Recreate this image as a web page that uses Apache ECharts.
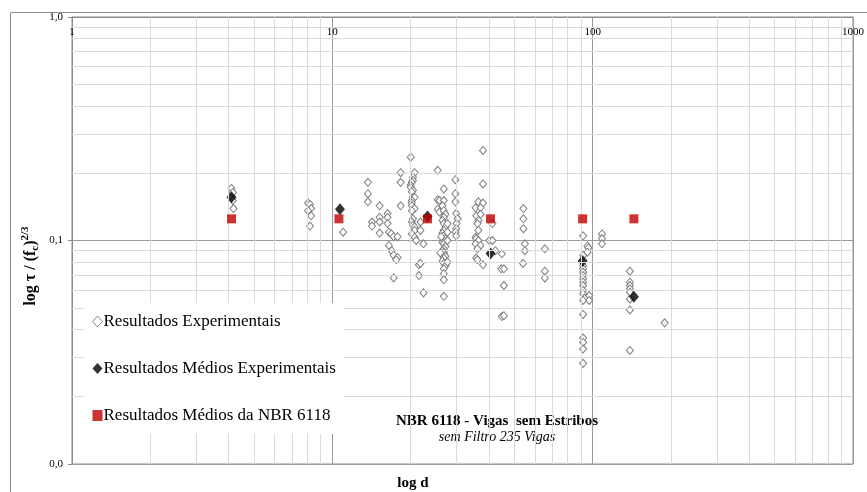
<!DOCTYPE html>
<html><head><meta charset="utf-8">
<script src="https://cdn.jsdelivr.net/npm/echarts@6/dist/echarts.min.js"></script>
<style>html,body{margin:0;padding:0;background:#fff}#c{width:867px;height:492px}</style>
</head><body><div id="c"></div>
<script>
// Experimental results (d, tau/fc^(2/3))
const expX = [4.10,4.15,4.15,4.17,8.07,8.21,8.29,8.07,8.29,8.21,11.0,13.7,13.7,13.7,14.2,14.2,15.2,15.2,15.2,15.2,16.3,16.3,16.3,16.5,16.5,16.85,16.9,17.2,17.2,17.8,17.8,17.6,17.2,18.3,18.3,18.3,20.0,
20.7,20.4,20.4,20.2,20.0,20.0,20.4,20.2,20.4,20.7,20.2,20.2,20.2,20.7,20.2,20.4,20.2,20.4,20.7,20.7,20.2,20.7,21.0,21.8,21.8,22.4,21.5,21.8,21.5,22.4,25.4,25.4,25.8,25.4,25.8,
26.8,26.8,26.5,26.8,27.2,26.8,26.5,26.8,27.2,26.8,26.5,26.8,27.2,26.8,26.5,26.8,27.2,26.8,26.5,26.8,26.8,27.2,26.8,26.5,26.8,27.2,26.8,26.8,26.8,26.8,27.7,27.7,26.2,27.7,26.0,27.7,
29.7,29.7,29.7,29.9,30.3,30.0,29.9,29.7,29.9,
37.9,37.9,36.4,37.9,35.5,37.1,35.7,37.1,36.4,36.1,36.4,35.5,35.7,36.4,35.5,37.1,36.1,35.7,36.1,37.9,41.2,40.1,41.2,42.3,44.8,44.5,45.6,45.6,44.8,45.6,
54.2,54.2,54.2,54.9,54.9,54.0,65.5,65.5,65.5,
91.9,95.5,96.3,95.5,91.9,91.9,91.9,91.9,91.9,91.9,91.9,91.9,91.9,91.9,93.0,97.0,97.0,91.9,91.9,91.9,91.9,91.9,91.9,
108.6,108.6,108.6,139,139,139,139,139,139,139,139,189];
const expY = [0.171,0.164,0.151,0.139,0.147,0.145,0.139,0.136,0.129,0.116,0.109,0.182,0.162,0.149,0.121,0.116,0.143,0.127,0.121,0.108,0.132,0.127,0.119,0.109,0.095,0.107,0.090,0.104,0.086,0.104,0.084,0.082,0.068,0.201,0.182,0.143,0.236,
0.201,0.192,0.186,0.182,0.177,0.173,0.168,0.165,0.156,0.156,0.151,0.147,0.143,0.139,0.136,0.125,0.121,0.117,0.115,0.111,0.107,0.1035,0.100,0.121,0.111,0.0966,0.0778,0.079,0.0697,0.0583,0.206,0.152,0.151,0.138,0.134,
0.170,0.151,0.143,0.136,0.131,0.127,0.123,0.119,0.115,0.111,0.108,0.105,0.102,0.100,0.098,0.0966,0.094,0.0918,0.090,0.0887,0.0872,0.085,0.0835,0.081,0.0791,0.077,0.0747,0.071,0.0667,0.0563,0.119,0.109,0.104,0.100,0.088,0.080,
0.187,0.162,0.149,0.132,0.125,0.119,0.113,0.109,0.105,
0.253,0.179,0.149,0.147,0.140,0.140,0.129,0.131,0.123,0.119,0.111,0.1035,0.102,0.100,0.0966,0.095,0.0918,0.0835,0.082,0.0778,0.119,0.100,0.100,0.090,0.0872,0.0747,0.0747,0.0629,0.0457,0.0461,
0.139,0.125,0.113,0.0966,0.090,0.079,0.0918,0.0729,0.068,
0.105,0.0945,0.0926,0.0887,0.0857,0.0773,0.0747,0.0721,0.0697,0.0674,0.0651,0.0629,0.0598,0.0577,0.0553,0.0567,0.0539,0.0539,0.0467,0.0366,0.035,0.0327,0.0282,
0.107,0.102,0.0966,0.0729,0.0651,0.0629,0.0608,0.0587,0.0548,0.0489,0.0322,0.0428];
// Mean experimental results
const meanX = [4.1, 10.7, 23.2, 40.5, 91.5, 144];
const meanY = [0.156, 0.138, 0.128, 0.0875, 0.081, 0.056];
// NBR 6118 mean results
const nbrX = [4.1, 10.6, 23.2, 40.5, 91.5, 144];
const nbrY = [0.125, 0.125, 0.125, 0.125, 0.125, 0.125];
// Axis ticks / labels
const xMinor = [2,3,4,5,6,7,8,9,20,30,40,50,60,70,80,90,200,300,400,500,600,700,800,900];
const yMinor = [0.02,0.03,0.04,0.05,0.06,0.07,0.08,0.09,0.2,0.3,0.4,0.5,0.6,0.7,0.8,0.9];
const yTickValues = [0.01, 0.1, 1];
const yTickLabels = ['0,0', '0,1', '1,0'];
const seriesNames = ['Resultados Experimentais', 'Resultados Médios Experimentais', 'Resultados Médios da NBR 6118'];

const zip = (a, b) => a.map((v, i) => [v, b[i]]);
const SERIF = '"Liberation Serif", "Times New Roman", serif';

const chart = echarts.init(document.getElementById('c'), null, {renderer: 'canvas'});
chart.setOption({
  animation: false,
  backgroundColor: '#fff',
  textStyle: {fontFamily: SERIF},
  grid: {left: 72, right: 11, top: 17, bottom: 28, show: true, borderColor: '#8c8c8c', borderWidth: 1},
  legend: {
    orient: 'vertical', left: 84, top: 303, itemGap: 30,
    itemWidth: 10, itemHeight: 11, selectedMode: false,
    backgroundColor: '#ffffff', padding: [10, 8, 10, 8], z: 10,
    textStyle: {fontFamily: SERIF, fontSize: 17, color: '#000', padding: [0, 0, 0, -4]},
    data: [
      {name: seriesNames[0], icon: 'diamond', itemStyle: {color: '#ffffff', borderColor: '#7f7f7f', borderWidth: 1}},
      {name: seriesNames[1], icon: 'diamond', itemStyle: {color: '#000000', borderWidth: 0}},
      {name: seriesNames[2], icon: 'rect', itemStyle: {color: '#c00000', borderWidth: 0}}
    ]
  },
  xAxis: {
    type: 'log', logBase: 10, min: 1, max: 1000, position: 'top',
    axisLine: {show: true, lineStyle: {color: '#8c8c8c'}},
    axisTick: {show: false},
    axisLabel: {inside: true, margin: 10, color: '#000', fontFamily: SERIF, fontSize: 11, formatter: v => String(Math.round(v))},
    splitLine: {show: true, lineStyle: {color: '#9a9a9a', width: 1}}
  },
  yAxis: {
    type: 'log', logBase: 10, min: 0.01, max: 1,
    axisLine: {show: true, lineStyle: {color: '#8c8c8c'}},
    axisTick: {show: true, inside: false, length: 4, lineStyle: {color: '#8c8c8c'}},
    axisLabel: {margin: 9, color: '#000', fontFamily: SERIF, fontSize: 11,
      formatter: v => { const i = yTickValues.findIndex(t => Math.abs(Math.log10(t) - Math.log10(v)) < 1e-6); return i >= 0 ? yTickLabels[i] : ''; }},
    splitLine: {show: true, lineStyle: {color: '#9a9a9a', width: 1}}
  },
  series: [
    {
      name: 'minorGrid', type: 'scatter', data: [], z: 0, silent: true,
      markLine: {
        silent: true, symbol: 'none', animation: false,
        label: {show: false},
        lineStyle: {color: '#dadada', type: 'solid', width: 1},
        data: xMinor.map(v => ({xAxis: v})).concat(yMinor.map(v => ({yAxis: v})))
      }
    },
    {
      name: seriesNames[0], type: 'scatter', z: 3, symbol: 'diamond', symbolSize: [7, 8],
      itemStyle: {color: '#ffffff', borderColor: '#7f7f7f', borderWidth: 1, opacity: 1},
      data: zip(expX, expY)
    },
    {
      name: seriesNames[1], type: 'scatter', z: 4, symbol: 'diamond', symbolSize: [10, 12],
      itemStyle: {color: '#000000'},
      data: zip(meanX, meanY)
    },
    {
      name: seriesNames[2], type: 'scatter', z: 5, symbol: 'rect', symbolSize: 9,
      itemStyle: {color: '#c00000'},
      data: zip(nbrX, nbrY)
    }
  ],
  graphic: [
    {type: 'rect', left: 8, top: 10, shape: {width: 900, height: 520}, style: {fill: 'none', stroke: '#8c8c8c', lineWidth: 1}, silent: true, z: -1},
    {type: 'text', x: 31, y: 266, rotation: Math.PI / 2,
      style: {text: '{b|log τ / (f}{sub|c}{b|)}{sup|2/3}', align: 'center', verticalAlign: 'middle',
        rich: {
          b: {font: 'bold 16px ' + SERIF, fill: '#000'},
          sub: {font: 'bold 11px ' + SERIF, fill: '#000', padding: [8, 0, 0, 0]},
          sup: {font: 'bold 11px ' + SERIF, fill: '#000', padding: [0, 0, 12, 0]}
        }}},
    {type: 'text', x: 413, y: 483, style: {text: 'log d', font: 'bold 15px ' + SERIF, fill: '#000', align: 'center', verticalAlign: 'middle'}},
    {type: 'text', x: 497, y: 421, style: {text: 'NBR 6118 - Vigas  sem Estribos', font: 'bold 15px ' + SERIF, fill: '#000', align: 'center', verticalAlign: 'middle'}},
    {type: 'text', x: 497, y: 437, style: {text: 'sem Filtro 235 Vigas', font: 'italic 14px ' + SERIF, fill: '#000', align: 'center', verticalAlign: 'middle'}}
  ]
});
</script></body></html>
